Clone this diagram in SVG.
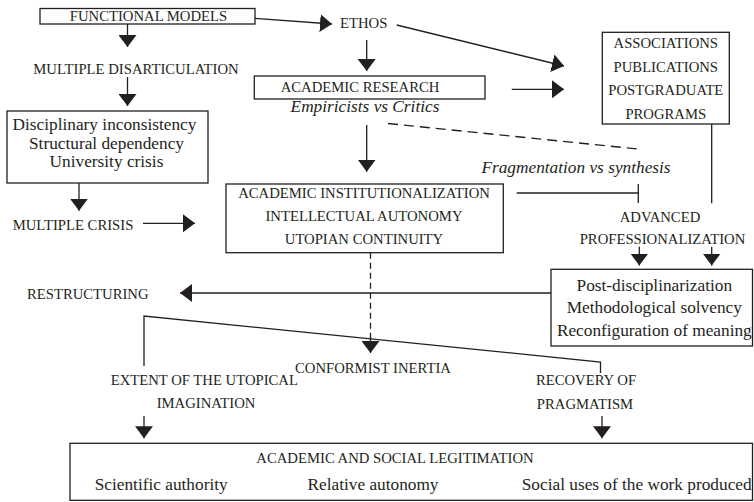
<svg xmlns="http://www.w3.org/2000/svg" width="754" height="502" viewBox="0 0 754 502" font-family="'Liberation Serif', 'DejaVu Serif', serif">
<style>
  .box { fill: #ffffff; stroke: #231f20; stroke-width: 1.3; }
  .ln { fill: none; stroke: #231f20; stroke-width: 1.3; }
  .arr { marker-end: url(#ah); }
  .dash { fill: none; stroke: #231f20; stroke-width: 1.3; stroke-dasharray: 10 6; }
  .dashv { fill: none; stroke: #231f20; stroke-width: 1.3; stroke-dasharray: 6 4; }
  text { font-family: 'Liberation Serif', 'DejaVu Serif', serif; fill: #231f20; text-anchor: middle; }
  .up { font-size: 14.7px; }
  .mc { font-size: 17.3px; }
  .it { font-size: 17.3px; font-style: italic; }
  .st { text-anchor: start; }
</style>
<defs>
  <marker id="ah" viewBox="0 0 12 18" refX="12" refY="9" markerWidth="12" markerHeight="18" markerUnits="userSpaceOnUse" orient="auto">
    <path d="M0,0 L12,9 L0,18 z" fill="#231f20"/>
  </marker>
</defs>

<g id="connectors">
  <line class="ln arr" x1="255" y1="18.3" x2="332" y2="24"/>
  <line class="ln arr" x1="127.5" y1="24" x2="127.5" y2="47"/>
  <line class="ln arr" x1="127.5" y1="77" x2="127.5" y2="106"/>
  <line class="ln arr" x1="79" y1="183" x2="79" y2="210.7"/>
  <line class="ln arr" x1="143" y1="223.3" x2="195" y2="223.3"/>
  <line class="ln arr" x1="366.7" y1="40" x2="366.7" y2="71"/>
  <line class="ln arr" x1="396.7" y1="25" x2="564" y2="66"/>
  <line class="ln arr" x1="511.7" y1="89.3" x2="564" y2="89.3"/>
  <line class="ln arr" x1="366.7" y1="125" x2="366.7" y2="171.7"/>
  <line class="dash" x1="388" y1="123.5" x2="638" y2="149"/>
  <line class="ln" x1="516.7" y1="193" x2="638.3" y2="193"/>
  <line class="ln" x1="638.3" y1="184" x2="638.3" y2="203"/>
  <line class="ln" x1="711.7" y1="124" x2="711.7" y2="203.3"/>
  <line class="ln arr" x1="639.3" y1="246.7" x2="639.3" y2="265.5"/>
  <line class="ln arr" x1="711.7" y1="246.7" x2="711.7" y2="265.5"/>
  <line class="ln arr" x1="551" y1="293" x2="180" y2="293"/>
  <line class="dashv" x1="370.5" y1="252.7" x2="370.5" y2="340"/>
  <line class="ln arr" x1="370.5" y1="337" x2="370.5" y2="353"/>
  <polyline class="ln" points="144,366 144,316 600.5,362 600.5,373"/>
  <line class="ln arr" x1="144" y1="416" x2="144" y2="438.3"/>
  <line class="ln arr" x1="602" y1="416" x2="602" y2="438.3"/>
</g>

<g id="functional-models">
  <rect class="box" x="40" y="8.5" width="215" height="15.5"/>
  <text class="up" x="148.5" y="21">FUNCTIONAL MODELS</text>
</g>
<g id="ethos">
  <text class="up st" x="340" y="28.3">ETHOS</text>
</g>
<g id="multiple-disarticulation">
  <text class="up" x="136" y="74">MULTIPLE DISARTICULATION</text>
</g>
<g id="crisis-box">
  <rect class="box" x="7" y="111" width="201" height="72"/>
  <text class="mc" x="104.5" y="130">Disciplinary inconsistency</text>
  <text class="mc" x="106.5" y="148.5">Structural dependency</text>
  <text class="mc" x="106.5" y="167">University crisis</text>
</g>
<g id="multiple-crisis">
  <text class="up st" x="12.7" y="230">MULTIPLE CRISIS</text>
</g>
<g id="academic-research">
  <rect class="box" x="254.3" y="76" width="230.7" height="23"/>
  <text class="up" x="360" y="92">ACADEMIC RESEARCH</text>
  <text class="it" x="365" y="112.3">Empiricists vs Critics</text>
</g>
<g id="associations">
  <rect class="box" x="602.3" y="32.3" width="127" height="91.7"/>
  <text class="up" x="665.8" y="48">ASSOCIATIONS</text>
  <text class="up" x="665.8" y="71.5">PUBLICATIONS</text>
  <text class="up" x="665.8" y="95.3">POSTGRADUATE</text>
  <text class="up" x="665.8" y="119">PROGRAMS</text>
</g>
<g id="fragmentation">
  <text class="it" x="576" y="173.3">Fragmentation vs synthesis</text>
</g>
<g id="institutionalization">
  <rect class="box" x="226" y="184" width="277.3" height="68.7"/>
  <text class="up" x="364" y="198.3">ACADEMIC INSTITUTIONALIZATION</text>
  <text class="up" x="364" y="221">INTELLECTUAL AUTONOMY</text>
  <text class="up" x="364" y="244">UTOPIAN CONTINUITY</text>
</g>
<g id="advanced-professionalization">
  <text class="up" x="660" y="221.7">ADVANCED</text>
  <text class="up" x="662.5" y="244">PROFESSIONALIZATION</text>
</g>
<g id="post-disciplinarization">
  <rect class="box" x="551" y="269.3" width="201.5" height="76.7"/>
  <text class="mc" x="654.3" y="290.7">Post-disciplinarization</text>
  <text class="mc" x="654.3" y="313.3">Methodological solvency</text>
  <text class="mc" x="654.3" y="335.7">Reconfiguration of meaning</text>
</g>
<g id="restructuring">
  <text class="up st" x="27" y="299.3">RESTRUCTURING</text>
</g>
<g id="conformist-inertia">
  <text class="up" x="373" y="372.7">CONFORMIST INERTIA</text>
</g>
<g id="utopical-imagination">
  <text class="up" x="204.3" y="385">EXTENT OF THE UTOPICAL</text>
  <text class="up" x="206" y="408.3">IMAGINATION</text>
</g>
<g id="recovery-pragmatism">
  <text class="up" x="586" y="385">RECOVERY OF</text>
  <text class="up" x="585" y="409">PRAGMATISM</text>
</g>
<g id="legitimation">
  <rect class="box" x="70" y="443.3" width="682.5" height="57"/>
  <text class="up" x="395" y="463.3">ACADEMIC AND SOCIAL LEGITIMATION</text>
  <text class="mc" x="161.2" y="490">Scientific authority</text>
  <text class="mc" x="373" y="490">Relative autonomy</text>
  <text class="mc" x="636.7" y="490">Social uses of the work produced</text>
</g>
</svg>
